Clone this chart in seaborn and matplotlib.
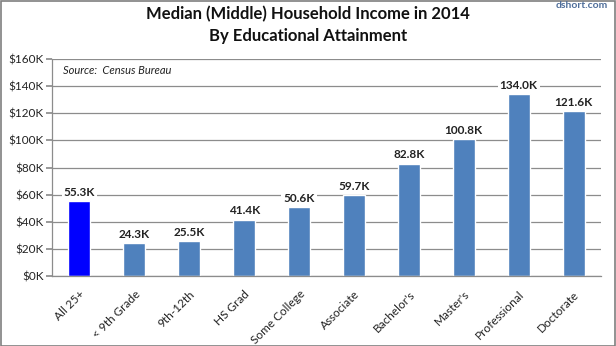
import matplotlib
matplotlib.use("Agg")
import matplotlib.pyplot as plt
import seaborn as sns
import pandas as pd
from matplotlib.patches import Rectangle

categories = ["All 25+", "< 9th Grade", "9th-12th", "HS Grad", "Some College",
              "Associate", "Bachelor's", "Master's", "Professional", "Doctorate"]
incomes_k = [55.3, 24.3, 25.5, 41.4, 50.6, 59.7, 82.8, 100.8, 134.0, 121.6]
value_labels = ["55.3K", "24.3K", "25.5K", "41.4K", "50.6K", "59.7K", "82.8K",
                "100.8K", "134.0K", "121.6K"]
y_ticks = [0, 20, 40, 60, 80, 100, 120, 140, 160]
y_tick_labels = ["$0K", "$20K", "$40K", "$60K", "$80K", "$100K", "$120K", "$140K", "$160K"]

sns.set_theme(style="white")
plt.rcParams['font.family'] = ['Lato', 'DejaVu Sans']

df = pd.DataFrame({"cat": categories, "val": incomes_k})
palette = ["#0000FF"] + ["#4F81BD"] * (len(categories) - 1)

fig = plt.figure(figsize=(6.16, 3.46), dpi=100)
ax = fig.add_axes([52 / 616, 1 - 276 / 346, 549 / 616, 217 / 346])

sns.barplot(data=df, x="cat", y="val", hue="cat", palette=palette, legend=False,
            width=0.4, ax=ax, saturation=1)

ax.set_ylim(0, 160)
ax.set_xlim(-0.5, len(categories) - 0.5)
ax.set_yticks(y_ticks)
ax.set_yticklabels(y_tick_labels, fontsize=8.5)
ax.yaxis.grid(True, color="#8C8C8C", linewidth=0.9)
ax.set_axisbelow(True)
for s in ["top", "right"]:
    ax.spines[s].set_visible(False)
for s in ["left", "bottom"]:
    ax.spines[s].set_color("#8C8C8C")
    ax.spines[s].set_linewidth(0.9)
ax.tick_params(axis="y", left=True, length=4, color="#8C8C8C", pad=2, labelcolor="#222222")
ax.tick_params(axis="x", bottom=False, pad=3)
ax.set_xlabel("")
ax.set_ylabel("")
ax.set_xticks(range(len(categories)))
ax.set_xticklabels(categories, rotation=45, ha="right", rotation_mode="anchor",
                   fontsize=8.5, color="#222222")

for i, (v, t) in enumerate(zip(incomes_k, value_labels)):
    ax.text(i, v + 2.5, t, ha="center", va="bottom", fontsize=8.5, fontweight="bold",
            color="#222222", bbox=dict(facecolor="white", edgecolor="none", pad=1.5))

ax.text(0.02, 0.945, "Source:  Census Bureau", transform=ax.transAxes,
        fontsize=8, style="italic", color="#222222", va="center")

fig.text(0.5, 1 - 14 / 346, "Median (Middle) Household Income in 2014",
         ha="center", va="center", fontsize=12, fontweight="bold", color="#111111")
fig.text(0.5, 1 - 36 / 346, "By Educational Attainment",
         ha="center", va="center", fontsize=12, fontweight="bold", color="#111111")
fig.text(1 - 8 / 616, 1 - 5 / 346, "dshort.com", ha="right", va="center",
         fontsize=7.5, fontweight="bold", color="#4F6E9A")

fig.patches.append(Rectangle((0.001, 0.001), 0.997, 0.997, transform=fig.transFigure,
                             fill=False, edgecolor="#7F7F7F", linewidth=1.2))

fig.savefig("out.png", dpi=100)
